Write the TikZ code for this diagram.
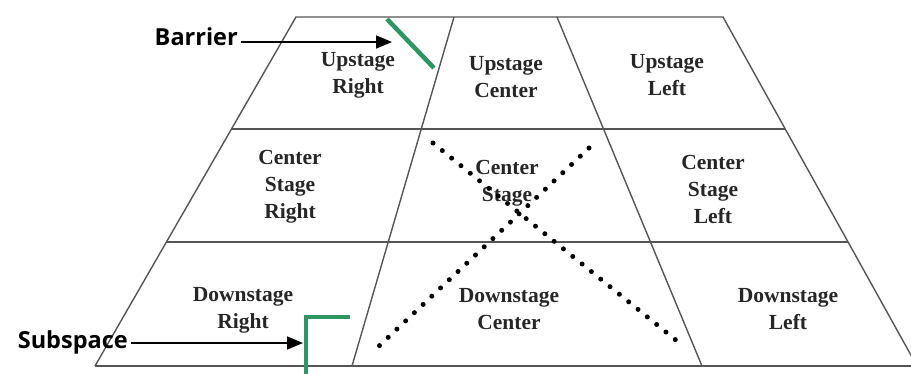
\documentclass[tikz,border=0pt]{standalone}
\usepackage{fontspec}
\setmainfont{Liberation Serif}
\newfontfamily\labfont{Open Sans}
\usetikzlibrary{arrows.meta}
\definecolor{gridgray}{RGB}{85,85,85}
\definecolor{mkgreen}{RGB}{46,150,100}
\begin{document}
\begin{tikzpicture}[x=1pt,y=-1pt,
  gridline/.style={draw=gridgray,line width=1.4pt},
  cell/.style={font=\fontsize{21.5}{27}\selectfont\bfseries,align=center,text=black!85,inner sep=0pt},
  tag/.style={font=\labfont\fontsize{23.5}{26}\selectfont\bfseries,inner sep=0pt},
  marker/.style={draw=mkgreen,line width=4.5pt},
  pointer/.style={draw=black,line width=1.6pt,-{Triangle[length=16pt,width=13pt]}},
  cross/.style={draw=black,line width=5pt,line cap=round,dash pattern=on 0pt off 12pt}]
\useasboundingbox (0,0) rectangle (911,373);
% outline corners
\coordinate (TL) at (296,17);
\coordinate (TR) at (723,17);
\coordinate (BL) at (95,366);
\coordinate (BR) at (917,366);
% row line ends
\coordinate (R1L) at (231.2,129);
\coordinate (R1R) at (785.3,129);
\coordinate (R2L) at (165.8,242);
\coordinate (R2R) at (848.1,242);
% dividers
\coordinate (D1T) at (454,17);
\coordinate (D1B) at (352,366);
\coordinate (D2T) at (557,17);
\coordinate (D2B) at (702,366);
% grid
\draw[gridline] (BL) -- (TL) -- (TR) -- (BR);
\draw[gridline,line width=2pt] (BL) -- (BR);
\draw[gridline] (R1L) -- (R1R);
\draw[gridline] (R2L) -- (R2R);
\draw[gridline] (D1T) -- (D1B);
\draw[gridline] (D2T) -- (D2B);
% cell labels
\node[cell] (ur) at (358,75.5) {Upstage\\Right};
\node[cell] (uc) at (506,77) {Upstage\\Center};
\node[cell] (ul) at (667,75.5) {Upstage\\Left};
\node[cell] (csr) at (290,187) {Center\\Stage\\Right};
\node[cell] (cs) at (507,183.5) {Center\\Stage};
\node[cell] (csl) at (713,189) {Center\\Stage\\Left};
\node[cell] (dr) at (243,310) {Downstage\\Right};
\node[cell] (dc) at (509,309.5) {Downstage\\Center};
\node[cell] (dl) at (788,309.5) {Downstage\\Left};
% dotted cross
\coordinate (X1a) at (433,143);
\coordinate (X1b) at (677,341);
\coordinate (X2a) at (589,148);
\coordinate (X2b) at (379,346);
\draw[cross] (X1a) -- (X1b);
\draw[cross] (X2a) -- (X2b);
% green markers
\coordinate (Ba) at (387,19);
\coordinate (Bb) at (434,68);
\draw[marker] (Ba) -- (Bb);
\coordinate (Sa) at (306,375);
\coordinate (Sb) at (306,317);
\coordinate (Sc) at (350,317);
\draw[marker] (Sa) -- (Sb) -- (Sc);
% callouts
\node[tag,anchor=base east] (barrier) at (238,45) {Barrier};
\node[tag,anchor=base east] (subspace) at (128,348) {Subspace};
\coordinate (Btip) at (392,42);
\coordinate (Stip) at (303,343);
\draw[pointer] (barrier.east |- Btip) ++(3,0) -- (Btip);
\draw[pointer] (subspace.east |- Stip) ++(3,0) -- (Stip);
\end{tikzpicture}
\end{document}
